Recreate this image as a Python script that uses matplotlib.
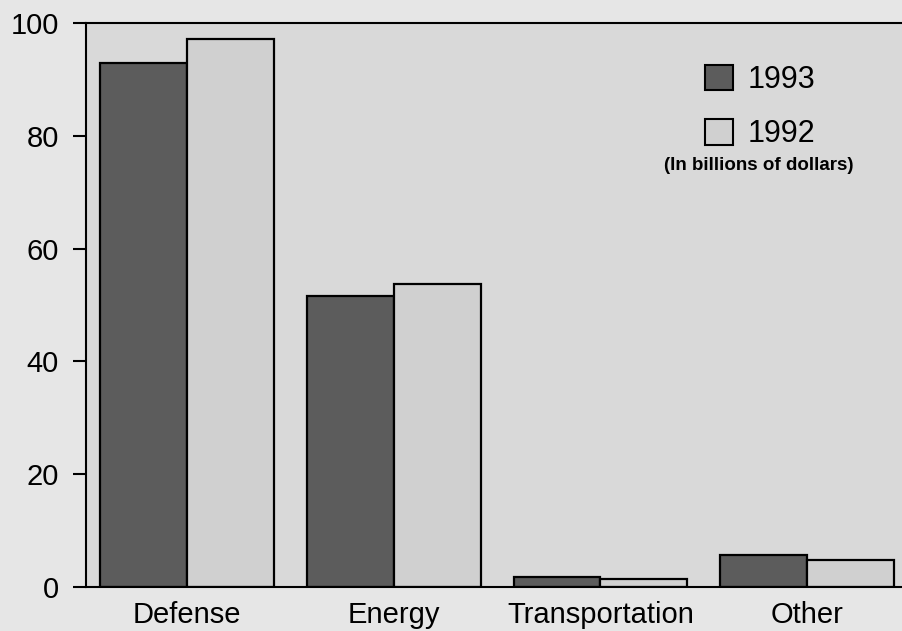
import matplotlib.pyplot as plt
import numpy as np
from matplotlib.patches import Patch

plt.rcParams['font.family'] = ['Liberation Sans', 'DejaVu Sans']

categories = ['Defense', 'Energy', 'Transportation', 'Other']
values_1993 = [92.9, 51.6, 1.8, 5.7]
values_1992 = [97.2, 53.8, 1.4, 4.7]

dark = '#5c5c5c'
light = '#d0d0d0'
fig_bg = '#e6e6e6'
ax_bg = '#d9d9d9'

fig = plt.figure(figsize=(9.03, 6.31), dpi=100, facecolor=fig_bg)
ax = fig.add_axes([86 / 903, 1 - 587 / 631, 1 - 86 / 903, (587 - 23) / 631])
ax.set_facecolor(ax_bg)

x = np.arange(len(categories))
w = 0.42
ax.bar(x - w / 2, values_1993, w, color=dark, edgecolor='black', linewidth=1.6, label='1993')
ax.bar(x + w / 2, values_1992, w, color=light, edgecolor='black', linewidth=1.6, label='1992')

ax.set_ylim(0, 100)
ax.set_xlim(-0.489, 3.464)
ax.set_yticks([0, 20, 40, 60, 80, 100])
ax.set_xticks(x)
ax.set_xticklabels(categories)
ax.tick_params(axis='y', length=9.5, width=1.5, pad=10, labelsize=21)
ax.tick_params(axis='x', length=0, pad=10, labelsize=21)

for s in ['left', 'top', 'bottom']:
    ax.spines[s].set_linewidth(1.5)
ax.spines['right'].set_visible(False)

handles = [Patch(facecolor=dark, edgecolor='black', linewidth=1.5, label='1993'),
           Patch(facecolor=light, edgecolor='black', linewidth=1.5, label='1992')]
ax.legend(handles=handles, loc='upper left', bbox_to_anchor=(0.758, 0.926),
          frameon=False, fontsize=22, handlelength=0.92, handleheight=0.92,
          handletextpad=0.46, labelspacing=0.78, borderaxespad=0, borderpad=0)

fig.text(759 / 903, 1 - 165 / 631, '(In billions of dollars)', ha='center', va='center',
         fontsize=13.5, fontweight='bold')

fig.savefig('out.png', dpi=100, facecolor=fig_bg)
